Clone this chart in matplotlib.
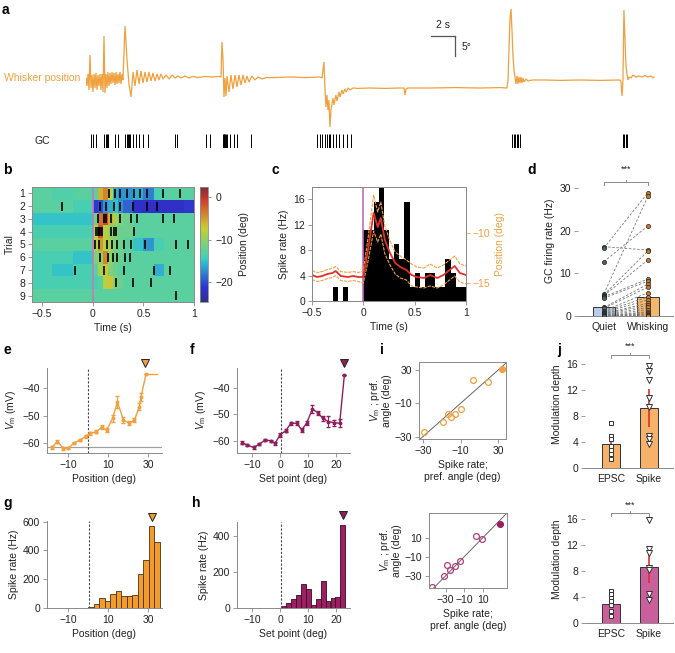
import numpy as np
import matplotlib
matplotlib.use('Agg')
import matplotlib.pyplot as plt
from matplotlib.colors import ListedColormap, Normalize

plt.rcParams['font.family'] = ['Liberation Sans', 'DejaVu Sans']
plt.rcParams['font.size'] = 7.5
plt.rcParams['mathtext.fontset'] = 'custom'
plt.rcParams['mathtext.rm'] = 'Liberation Sans'
plt.rcParams['mathtext.it'] = 'Liberation Sans:italic'
plt.rcParams['axes.linewidth'] = 0.7
plt.rcParams['path.simplify'] = False

W, H = 675, 653
GREY = '#8a8a8a'
TXT = '#222222'
ORANGE = '#f0a03c'
PURPLE = '#8e1f5c'
RED = '#e0302a'

# ---- a: whisker trace (s, deg) and GC spikes (s)
whisk_t = [0.00, 0.08, 0.17, 0.25, 0.33, 0.42, 0.50, 0.58, 0.67, 0.75, 0.83, 0.92, 1.00, 1.08,
           1.17, 1.25, 1.33, 1.42, 1.50, 1.58, 1.67, 1.75, 1.83, 1.92, 2.00, 2.08, 2.17, 2.25,
           2.33, 2.42, 2.50, 2.58, 2.67, 2.75, 2.83, 2.92, 3.00, 3.08, 3.25, 3.42, 3.58, 3.75,
           3.92, 4.08, 4.25, 4.42, 4.58, 4.75, 4.92, 5.08, 5.25, 5.42, 5.58, 5.75, 5.92, 6.08,
           6.25, 6.42, 6.67, 6.92, 7.17, 7.42, 7.67, 7.92, 8.25, 8.58, 8.92, 9.33, 9.92, 10.5,
           11.08, 11.25, 11.33, 11.42, 11.5, 11.58, 11.67, 11.75, 11.92, 12.08, 12.25, 12.42,
           12.58, 12.75, 12.92, 13.08, 13.25, 13.42, 13.58, 13.83, 14.08, 14.33, 14.67, 15.0,
           15.75, 17.0, 18.25, 19.5, 19.67, 19.83, 19.92, 20.0, 20.08, 20.17, 20.25, 20.33,
           20.42, 20.58, 20.67, 20.83, 20.92, 21.08, 21.17, 21.33, 21.42, 21.58, 21.67, 21.83,
           22.0, 22.25, 22.67, 23.67, 24.92, 26.17, 26.5, 26.58, 26.67, 26.83, 28.67, 30.75,
           32.83, 34.5, 35.08, 35.17, 35.33, 35.42, 35.5, 35.58, 35.67, 35.75, 35.83, 35.92,
           36.0, 36.08, 36.17, 36.25, 36.33, 36.42, 36.5, 36.67, 36.83, 37.17, 38.25, 39.5,
           41.17, 42.83, 44.5, 44.58, 44.67, 44.75, 44.83, 44.92, 45.0, 45.08, 45.17, 45.25,
           45.42, 45.58, 45.83, 46.08, 46.33, 46.58, 46.83, 47.08, 47.25, 47.33]
whisk_deg = [0.0, -2.0, 1.0, -3.0, 5.75, -2.5, 0.75, -3.5, 1.0, -2.5, 1.25, -3.0, 0.75, -2.0,
             1.0, -3.0, 1.0, -3.5, 10.5, -3.75, 1.0, -2.5, 1.5, -2.0, 1.25, -1.5, 1.5, -1.25,
             1.25, -1.75, 1.5, -1.5, 1.0, -1.25, 1.5, -1.5, 1.0, -0.5, 13.0, 4.5, -1.5, -4.75,
             1.5, -2.0, 2.0, -1.5, 1.75, -1.25, 1.5, -1.0, 1.5, -0.75, 1.25, -0.75, 1.0, -0.5,
             1.0, -0.25, 0.75, -0.25, 0.75, 0.0, 0.5, 0.0, 0.5, 0.0, 0.4, 0.1, 0.4, 0.25,
             0.4, 0.25, 9.0, 4.5, -4.75, 0.0, -4.5, 0.5, -3.5, 0.75, -2.75, 0.75,
             -2.25, 0.75, -1.75, 0.75, -1.25, 0.5, -1.0, 0.5, -0.5, 0.25, -0.25, 0.1,
             0.1, 0.25, 0.1, 0.25, 0.0, 4.0, -3.0, -7.25, -4.25, -8.0, -5.5, -12.25,
             -8.0, -5.0, -6.75, -4.25, -5.75, -3.5, -4.75, -3.0, -4.0, -2.75, -3.5, -2.5,
             -3.0, -2.5, -2.6, -2.5, -2.6, -2.5, -2.5, -4.25, -2.75, -2.5, -2.5, -2.4,
             -2.5, -2.4, -2.5, -0.5, 14.5, 17.25, 12.0, 5.75, 2.0, 0.25, -1.5, 0.5,
             -1.5, 0.25, -1.25, 0.25, -1.25, 0.0, -1.0, -0.25, -0.75, -0.5, -0.5, -0.6,
             -0.5, -0.6, -0.5, -1.0, -4.5, -0.5, 17.0, 9.5, 3.25, 1.0, -0.5, 0.25,
             0.0, 0.75, 0.25, 0.5, 0.25, 0.6, 0.25, 0.5, 0.0, 0.25]
gc_spikes = [0.44, 0.62, 0.80, 1.53, 1.64, 1.75, 1.82, 2.43, 2.69, 3.27, 3.38, 3.49, 3.59,
             3.70, 3.88, 4.14, 4.43, 4.79, 5.15, 7.43, 7.61, 10.04, 10.30, 11.38, 11.46,
             11.53, 11.61, 11.68, 11.79, 12.04, 12.30, 12.59, 13.75, 19.28, 19.46, 19.64,
             19.93, 20.08, 20.22, 20.37, 20.55, 20.80, 21.09, 21.45, 21.74, 22.10, 35.52,
             35.63, 35.73, 35.88, 36.02, 36.20, 44.72, 44.86, 45.01, 45.12]

# ---- b: whisker position per trial (deg) and spike times (s)
b_edges = [-0.6, -0.4, -0.2, 0, 0.05, 0.1, 0.15, 0.2, 0.25, 0.3, 0.4, 0.5, 0.6, 0.7, 0.8, 0.9, 1.0]
b_pos = [
    [-13, -13.5, -13, -13, -6, -4, -8, -16, -17, -17, -16, -18, -14, -13, -13, -13],
    [-13, -13, -14, -21, -20, -17, -16, -15, -17, -19, -22, -22, -22, -22, -22, -21],
    [-15, -15, -15, -12, -3, -1, -6, -9, -11, -12, -13, -13, -13, -13, -13, -13],
    [-14, -14, -14, -8, -2, -8, -10, -11, -12, -12, -13, -13, -13, -13, -13, -13],
    [-13, -13, -13, -8, -5, -8, -9, -11, -12, -13, -15, -17, -14, -13, -13, -13],
    [-14, -14, -15, -11, -10, -4, -10, -12, -12, -13, -13, -13, -13, -13, -13, -13],
    [-14, -15, -14, -13, -9, -7, -11, -12, -13, -13, -13, -13, -16, -13, -13, -13],
    [-14, -14, -14, -14, -13, -8, -7, -11, -12, -13, -13, -13, -13, -13, -13, -13],
    [-13, -13, -13, -13, -13, -13, -13, -13, -13, -13, -13, -13, -13, -13, -13, -13],
]
b_spikes = [
    [0.157, 0.216, 0.265, 0.337, 0.408, 0.467, 0.533, 0.696, 0.859],
    [-0.30, 0.075, 0.134, 0.206, 0.265, 0.402, 0.533, 0.63],
    [0.052, 0.114, 0.134, 0.183, 0.265, 0.379, 0.441, 0.69, 0.80],
    [0.036, 0.049, 0.062, 0.075, 0.09, 0.18, 0.206, 0.232, 0.408],
    [0.026, 0.065, 0.14, 0.19, 0.239, 0.304, 0.379, 0.516, 0.827, 0.941],
    [0.069, 0.147, 0.199, 0.239, 0.32, 0.363],
    [-0.18, 0.108, 0.304, 0.605, 0.761],
    [0.232, 0.402, 0.572],
    [0.827],
]

# ---- c: PSTH (Hz) and mean position (deg)
c_left = [-0.5, -0.45, -0.4, -0.35, -0.3, -0.25, -0.2, -0.15, -0.1, -0.05,
          0.0, 0.05, 0.1, 0.15, 0.2, 0.25, 0.3, 0.35, 0.4, 0.45,
          0.5, 0.55, 0.6, 0.65, 0.7, 0.75, 0.8, 0.85, 0.9, 0.95]
c_rate = [0, 0, 0, 0, 2.22, 0, 2.22, 0, 0, 0,
          11.1, 11.1, 15.6, 17.8, 11.1, 6.67, 8.89, 6.67, 15.6, 2.22,
          4.44, 2.22, 4.44, 4.44, 2.22, 2.22, 6.67, 4.44, 2.22, 2.22]
c_t = [-0.5, -0.45, -0.4, -0.35, -0.3, -0.27, -0.22, -0.15, -0.1, -0.05, 0.0, 0.05, 0.1,
       0.14, 0.17, 0.21, 0.26, 0.31, 0.36, 0.42, 0.47, 0.52, 0.59, 0.65, 0.72, 0.78, 0.84,
       0.89, 0.94, 1.0]
c_pos = [-14.2, -14.4, -14.3, -14.1, -14.0, -13.8, -14.3, -14.4, -14.3, -14.4, -14.4, -11.4,
         -8.0, -9.4, -8.5, -10.7, -12.0, -13.0, -13.4, -13.7, -14.2, -14.4, -14.5, -14.2,
         -14.5, -14.2, -13.7, -13.3, -14.0, -14.2]
c_sem = [0.45, 0.45, 0.45, 0.45, 0.45, 0.45, 0.45, 0.45, 0.45, 0.45, 0.6, 1.2, 1.8, 1.5,
         1.6, 1.4, 1.2, 1.1, 1.1, 1.0, 1.1, 1.0, 1.0, 1.1, 1.0, 1.0, 1.0, 1.0, 0.9, 0.9]

# ---- d: GC firing rate per cell (Hz)
d_quiet = [16.3, 16.0, 12.8, 5.2, 5.0, 4.8, 4.5, 4.2, 2.0, 1.8, 1.2, 1.0, 0.8, 0.6, 0.5, 0.3,
           0.2, 0.1, 0.0, 0.0, 0.0, 0.0, 0.0, 0.0]
d_whisk = [15.5, 29.0, 21.2, 28.2, 15.3, 13.2, 8.7, 8.2, 7.5, 6.8, 5.5, 4.5, 3.8, 3.0, 2.5,
           2.0, 1.5, 1.0, 0.8, 0.5, 0.3, 0.2, 0.0, 0.0]
d_mean = [2.0, 4.4]
d_sem = [0.7, 1.3]

# ---- e/f: Vm tuning
e_pos = [-18.2, -15.3, -12.3, -9.8, -7, -4, -1, 1, 4, 6.8, 9.3, 12.3, 14.7, 17.7, 20.7, 23.2,
         25.7, 26.5, 29]
e_vm = [-61.6, -59.5, -61.9, -61.9, -59.9, -58.9, -57.5, -56.5, -55.9, -54.3, -55.3, -51.0,
        -45.0, -51.6, -52.8, -51.6, -46.8, -43.2, -35.0]
e_err = [0.4, 0.6, 0.5, 0.4, 0.4, 0.4, 0.5, 0.5, 0.5, 0.7, 0.7, 1.2, 2.2, 1.0, 0.8, 0.8, 1.2,
         1.5, 0]
e_end = 34.3
f_sp = [-13.7, -11.7, -9.5, -7.4, -5.4, -3.3, -1.8, 0, 2.0, 3.9, 6.0, 7.7, 9.5, 11.5, 13.5,
        15.2, 17.3, 19.3, 21.3, 23.0]
f_vm = [-60.6, -61.5, -62.4, -61.2, -59.6, -59.9, -60.9, -57.7, -56.1, -53.3, -53.3, -55.8,
        -53.3, -48.0, -49.3, -51.4, -52.7, -53.1, -53.3, -35.0]
f_err = [0.5, 0.5, 0.6, 0.4, 0.4, 0.4, 0.5, 0.6, 0.6, 0.6, 0.7, 0.8, 0.7, 1.5, 0.8, 1.0, 2.0,
         1.2, 1.5, 0]

# ---- g/h: spike rate tuning
g_pos = [-17.65, -14.9, -12.15, -9.4, -6.65, -3.9, -1.15, 1.6, 4.35, 7.1, 9.85, 12.6, 15.35,
         18.1, 20.85, 23.6, 26.35, 29.1, 31.85, 34.6]
g_rate = [0, 0, 0, 0, 0, 0, 3, 7, 25, 70, 48, 95, 118, 82, 80, 88, 235, 333, 573, 460]
h_sp = [-14.35, -12.6, -10.85, -9.1, -7.35, -5.6, -3.85, -2.1, -0.35, 1.4, 3.15, 4.9, 6.65,
        8.4, 10.15, 11.9, 13.65, 15.4, 17.15, 18.9, 20.65, 22.4]
h_rate = [0, 0, 0, 0, 0, 0, 0, 0, 0, 12, 28, 50, 70, 135, 105, 18, 50, 150, 40, 58, 60, 460]

# ---- i: preferred angle, spike rate vs Vm
i1_spk = [-29, -14, -10, -7.5, -4.5, 0.5, 10, 22, 33]
i1_vm = [-26, -17, -10, -12, -10, -5, 21, 19, 31]
i2_spk = [-44.3, -32.2, -28.6, -25.7, -20.3, -14.2, 3, 9, 28]
i2_vm = [-41.7, -29.9, -18.4, -24.3, -19.5, -14.3, 12.1, 8.6, 24.3]

# ---- j: modulation depth
j1_epsc = [6.9, 4.9, 4.4, 3.4, 2.7, 2.1, 1.4]
j1_spike = [15.7, 14.9, 13.5, 10.7, 9.4, 4.9, 4.5, 3.7]
j1_mean = [3.7, 9.2]
j1_sem = [1.1, 2.9]
j2_epsc = [5.0, 4.4, 3.8, 3.4, 2.7, 1.8, 1.1]
j2_spike = [15.8, 11.4, 10.8, 8.5, 8.2, 4.5, 3.6]
j2_mean = [2.9, 8.6]
j2_sem = [0.6, 2.5]

fig = plt.figure(figsize=(W / 100, H / 100), dpi=100)


def box(x0, y0, x1, y1):
    return fig.add_axes([x0 / W, 1 - y1 / H, (x1 - x0) / W, (y1 - y0) / H])


def style(ax, spines=('left', 'bottom')):
    for s in ax.spines:
        ax.spines[s].set_visible(s in spines)
        ax.spines[s].set_color(GREY)
        ax.spines[s].set_linewidth(0.7)
    ax.tick_params(direction='out', length=3, width=0.6, color=GREY, labelcolor=TXT,
                   labelsize=7.5, pad=2)


def letter(x, y, s):
    fig.text(x / W, 1 - y / H, s, fontsize=10, fontweight='bold', va='center', ha='left')


def bracket(ax, x0, x1, y, h, ty):
    ax.plot([x0, x0, x1, x1], [y - h, y, y, y - h], color=GREY, lw=0.7, clip_on=False)
    ax.plot([(x0 + x1) / 2] * 2, [y, y + h * 0.7], color=GREY, lw=0.7, clip_on=False)
    ax.text((x0 + x1) / 2, ty, '***', ha='center', va='center', fontsize=6.5, color=TXT)


def lab(vals):
    return [('%g' % v).replace('-', '\u2212') for v in vals]


# ---------------- panel a
letter(2, 10, 'a')
ax = box(86, 0, 655, 130)
ax.plot(whisk_t, whisk_deg, color=ORANGE, lw=0.9, solid_joinstyle='miter')
ax.set_xlim(0, 47.42)
ax.set_ylim(-13, 19.5)
ax.axis('off')
ax.plot([28.75, 30.75], [10.5, 10.5], color='#555555', lw=0.9)
ax.plot([30.75, 30.75], [10.5, 5.5], color='#555555', lw=0.9)
ax.text(29.75, 12.0, '2 s', ha='center', va='bottom', fontsize=7.5, color=TXT)
ax.text(31.3, 7.8, '5\u00b0', ha='left', va='center', fontsize=7.5, color=TXT)
fig.text(80 / W, 1 - 78 / H, 'Whisker position', color=ORANGE, ha='right', va='center',
         fontsize=7.5)

ax = box(86, 134, 655, 148)
ax.vlines(gc_spikes, 0, 1, color='black', lw=0.7)
ax.set_xlim(0, 47.42)
ax.set_ylim(0, 1)
ax.axis('off')
fig.text(50 / W, 1 - 141 / H, 'GC', ha='right', va='center', fontsize=7.5, color=TXT)

# ---------------- panel b
letter(3, 170, 'b')
jet = plt.get_cmap('jet')(np.linspace(0, 1, 256))
jet[:, :3] = jet[:, :3] * 0.62 + 0.38 * 0.5
cmap = ListedColormap(jet)
norm = Normalize(-24.7, 2.4)
ax = box(32, 187, 194, 302)
mesh = ax.pcolormesh(b_edges, np.arange(0.5, 10, 1), np.array(b_pos), cmap=cmap, norm=norm)
ax.axvline(0, color='#c07cc0', lw=1.2)
for k, times in enumerate(b_spikes):
    ax.vlines(times, k + 1 - 0.35, k + 1 + 0.35, color='black', lw=1.2)
ax.set_xlim(-0.6, 1.0)
ax.set_ylim(9.5, 0.5)
style(ax, ('left', 'bottom', 'top', 'right'))
ax.set_yticks(range(1, 10))
ax.set_xticks([-0.5, 0, 0.5, 1])
ax.set_xticklabels(lab([-0.5, 0, 0.5, 1]))
ax.set_ylabel('Trial', color=TXT, labelpad=3)
ax.set_xlabel('Time (s)', color=TXT, labelpad=3)
cax = box(200, 187, 208, 302)
cb = fig.colorbar(mesh, cax=cax)
cb.outline.set_edgecolor(GREY)
cb.outline.set_linewidth(0.6)
cb.set_ticks([0, -10, -20])
cb.set_ticklabels(lab([0, -10, -20]))
cax.tick_params(length=2, width=0.6, color=GREY, labelcolor=TXT, labelsize=7.5)
cb.set_label('Position (deg)', color=TXT, labelpad=4)

# ---------------- panel c
letter(272, 170, 'c')
ax = box(312, 187, 466, 301)
ax.bar(c_left, c_rate, width=0.05, align='edge', color='black', lw=0)
ax.axvline(0, color='#c06cc0', lw=1.2)
ax.set_xlim(-0.5, 1.0)
ax.set_ylim(0, 17.9)
style(ax, ('left', 'bottom', 'top', 'right'))
ax.set_yticks([0, 4, 8, 12, 16])
ax.set_xticks([-0.5, 0, 0.5, 1])
ax.set_xticklabels(lab([-0.5, 0, 0.5, 1]))
ax.set_ylabel('Spike rate (Hz)', color=TXT, labelpad=3)
ax.set_xlabel('Time (s)', color=TXT, labelpad=3)
ax2 = ax.twinx()
cp = np.array(c_pos)
cs = np.array(c_sem)
ax2.plot(c_t, cp + cs, color='#f0a040', lw=0.8, ls=(0, (3, 1)))
ax2.plot(c_t, cp - cs, color='#f0a040', lw=0.8, ls=(0, (3, 1)))
ax2.plot(c_t, cp, color=RED, lw=1.3)
ax2.set_ylim(-16.8, -5.4)
style(ax2, ('left', 'bottom', 'top', 'right'))
ax2.set_yticks([-10, -15])
ax2.set_yticklabels(lab([-10, -15]))
ax2.tick_params(axis='y', color='#f0a040', labelcolor='#f0a040')
ax2.set_ylabel('Position (deg)', color='#f0a040', labelpad=3)

# ---------------- panel d
letter(527, 170, 'd')
ax = box(578, 165, 673, 316)
for q, w in zip(d_quiet, d_whisk):
    ax.plot([0, 1], [q, w], color='#777777', lw=0.6, ls=(0, (3, 2)), zorder=3)
ax.bar([0, 1], d_mean, width=0.5, color=['#b9cde6', '#f4b56c'], edgecolor='#333333',
       lw=0.7, zorder=2)
ax.errorbar([0, 1], d_mean, yerr=d_sem, fmt='none', ecolor=RED, elinewidth=1.2, capsize=0,
            zorder=4)
ax.plot([0] * len(d_quiet), d_quiet, 'o', ms=3.0, mfc='#4d6470', mec='#222222', mew=0.5,
        zorder=5)
ax.plot([1] * len(d_whisk), d_whisk, 'o', ms=3.0, mfc='#c77a2e', mec='#222222', mew=0.5,
        zorder=5)
ax.set_xlim(-0.59, 1.57)
ax.set_ylim(0, 35.5)
style(ax, ('bottom',))
ax.set_yticks([0, 10, 20, 30])
ax.set_xticks([0, 1])
ax.set_xticklabels(['Quiet', 'Whisking'])
ax.tick_params(axis='x', length=0, pad=4)
ax.set_ylabel('GC firing rate (Hz)', color=TXT, labelpad=3)
bracket(ax, 0, 1, 31.5, 0.8, 34.6)

# ---------------- panel e
letter(3, 350, 'e')
ax = box(47, 368, 162, 453)
ax.axhline(-61.5, color='#a0a0a0', lw=0.9)
ax.axvline(0.2, color='#444444', lw=0.8, ls=(0, (2, 1.5)))
ax.plot([e_pos[-1], e_end], [e_vm[-1], e_vm[-1]], color=ORANGE, lw=1.0)
ax.errorbar(e_pos, e_vm, yerr=e_err, color=ORANGE, lw=1.0, marker='o', ms=1.8,
            elinewidth=0.8, capsize=1.2)
ax.plot([28.5], [-31.0], marker='v', ms=6, mfc=ORANGE, mec='#222222', mew=0.7,
        clip_on=False)
ax.set_xlim(-20.5, 37)
ax.set_ylim(-63.6, -32.7)
style(ax)
ax.set_xticks([-10, 10, 30])
ax.set_xticklabels(lab([-10, 10, 30]))
ax.set_yticks([-60, -50, -40])
ax.set_yticklabels(lab([-60, -50, -40]))
ax.set_ylabel(r'$V_{\mathrm{m}}$ (mV)', color=TXT, labelpad=3)
ax.set_xlabel('Position (deg)', color=TXT, labelpad=3)

# ---------------- panel f
letter(190, 350, 'f')
ax = box(237, 368, 350, 453)
ax.axvline(0.5, color='#444444', lw=0.8, ls=(0, (2, 1.5)))
ax.errorbar(f_sp, f_vm, yerr=f_err, color=PURPLE, lw=1.0, marker='o', ms=1.8,
            elinewidth=0.8, capsize=1.2)
ax.plot([23.0], [-30.6], marker='v', ms=6, mfc=PURPLE, mec='#222222', mew=0.7,
        clip_on=False)
ax.set_xlim(-15.4, 25)
ax.set_ylim(-64.5, -32.5)
style(ax)
ax.set_xticks([-10, 0, 10, 20])
ax.set_xticklabels(lab([-10, 0, 10, 20]))
ax.set_yticks([-60, -50, -40])
ax.set_yticklabels(lab([-60, -50, -40]))
ax.set_ylabel(r'$V_{\mathrm{m}}$ (mV)', color=TXT, labelpad=3)
ax.set_xlabel('Set point (deg)', color=TXT, labelpad=3)

# ---------------- panel g
letter(3, 503, 'g')
ax = box(47, 521, 162, 608)
ax.axvline(0.3, color='#444444', lw=0.8, ls=(0, (2, 1.5)))
ax.bar(g_pos, g_rate, width=2.75, color='#f29b2e', edgecolor='#4a3010', lw=0.6)
ax.plot([32.2], [635], marker='v', ms=6, mfc='#f29b2e', mec='#222222', mew=0.7,
        clip_on=False)
ax.set_xlim(-20.5, 37)
ax.set_ylim(0, 605)
style(ax)
ax.set_xticks([-10, 10, 30])
ax.set_xticklabels(lab([-10, 10, 30]))
ax.set_yticks([0, 200, 400, 600])
ax.set_ylabel('Spike rate (Hz)', color=TXT, labelpad=3)
ax.set_xlabel('Position (deg)', color=TXT, labelpad=3)

# ---------------- panel h
letter(192, 503, 'h')
ax = box(237, 522, 350, 608)
ax.axvline(0.5, color='#444444', lw=0.8, ls=(0, (2, 1.5)))
ax.bar(h_sp, h_rate, width=1.72, color='#9c1f63', edgecolor='#3a0a24', lw=0.6)
ax.plot([22.4], [516], marker='v', ms=6, mfc=PURPLE, mec='#222222', mew=0.7,
        clip_on=False)
ax.set_xlim(-15.4, 25)
ax.set_ylim(0, 478)
style(ax)
ax.set_xticks([-10, 0, 10, 20])
ax.set_xticklabels(lab([-10, 0, 10, 20]))
ax.set_yticks([0, 200, 400])
ax.set_ylabel('Spike rate (Hz)', color=TXT, labelpad=3)
ax.set_xlabel('Set point (deg)', color=TXT, labelpad=3)

# ---------------- panel i
letter(380, 350, 'i')
ylab_i = '$V_{\\mathrm{m}}$ ; pref.\nangle (deg)'
xlab_i = 'Spike rate;\npref. angle (deg)'
ax = box(419, 362, 506, 439)
ax.plot([-40, 40], [-40, 40], color='#666666', lw=0.7)
ax.plot(i1_spk[:-1], i1_vm[:-1], 'o', ms=4.2, mfc='none', mec='#f0a040', mew=0.9)
ax.plot(i1_spk[-1:], i1_vm[-1:], 'o', ms=4.2, mfc='#f0a040', mec='#f0a040', mew=0.9)
ax.set_xlim(-33, 36)
ax.set_ylim(-32, 37)
style(ax, ('left', 'bottom', 'top', 'right'))
ax.set_xticks([-30, 0, 30])
ax.set_xticklabels(lab([-30, -10, 30]))
ax.set_yticks([-30, 0, 30])
ax.set_yticklabels(lab([-30, -10, 30]))
ax.set_ylabel(ylab_i, color=TXT, labelpad=2, linespacing=1.0)
ax.set_xlabel(xlab_i, color=TXT, labelpad=3, linespacing=1.2)

ax = box(429, 513, 507, 588)
ax.plot([-50, 40], [-50, 40], color='#666666', lw=0.7)
ax.plot(i2_spk[:-1], i2_vm[:-1], 'o', ms=4.2, mfc='none', mec='#b0407a', mew=0.9)
ax.plot(i2_spk[-1:], i2_vm[-1:], 'o', ms=4.2, mfc='#9c1f63', mec='#9c1f63', mew=0.9)
ax.set_xlim(-48, 36)
ax.set_ylim(-43, 36)
style(ax, ('left', 'bottom', 'top', 'right'))
ax.set_xticks([-30, -10, 10])
ax.set_xticklabels(lab([-30, -10, 10]))
ax.set_yticks([-30, -10, 10])
ax.set_yticklabels(lab([-30, -10, 10]))
ax.set_ylabel(ylab_i, color=TXT, labelpad=2, linespacing=1.0)
ax.set_xlabel(xlab_i, color=TXT, labelpad=3, linespacing=1.2)

# ---------------- panel j
letter(557, 350, 'j')
for (y0, y1, epsc, spk, mean, sem, col) in [
        (340, 468, j1_epsc, j1_spike, j1_mean, j1_sem, '#f6b26b'),
        (495, 623, j2_epsc, j2_spike, j2_mean, j2_sem, '#c9609b')]:
    ax = box(585, y0, 673, y1)
    ax.bar([0, 1], mean, width=0.47, color=col, edgecolor='#333333', lw=0.7, zorder=2)
    ax.errorbar([0, 1], mean, yerr=sem, fmt='none', ecolor=RED, elinewidth=1.2, capsize=0,
                zorder=3)
    ax.plot([0] * len(epsc), epsc, 's', ms=3.2, mfc='white', mec='#333333', mew=0.7, zorder=4)
    ax.plot([1] * len(spk), spk, 'v', ms=3.8, mfc='white', mec='#333333', mew=0.7, zorder=4)
    ax.set_xlim(-0.68, 1.63)
    ax.set_ylim(0, 19.7)
    style(ax, ('bottom',))
    ax.set_yticks([0, 4, 8, 12, 16])
    ax.set_xticks([0, 1])
    ax.set_xticklabels(['EPSC', 'Spike'])
    ax.tick_params(axis='x', length=0, pad=4)
    ax.set_ylabel('Modulation depth', color=TXT, labelpad=3)
    top = 17.4 if y0 == 340 else 16.9
    bracket(ax, 0, 1, top, 0.5, top + 1.3)

fig.savefig('out.png', dpi=100)
